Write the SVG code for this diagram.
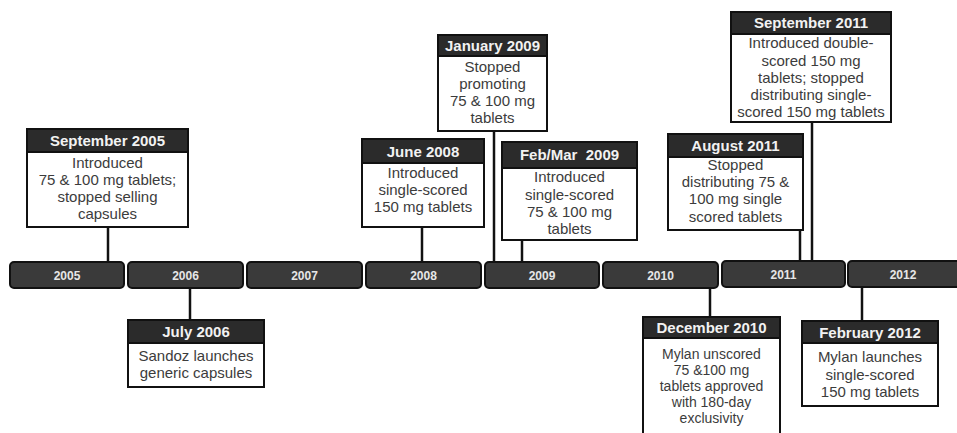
<svg xmlns="http://www.w3.org/2000/svg" width="957" height="433" viewBox="0 0 957 433">
<style>
.bar{fill:#3a3a3a;stroke:#111;stroke-width:2}
.yr{font-family:"Liberation Sans",Arial,sans-serif;font-size:12px;font-weight:bold;fill:#e6e6e6;text-anchor:middle}
.box{fill:#fff;stroke:#111;stroke-width:2}
.hd{fill:#2b2b2b;stroke:#111;stroke-width:2}
.ht{font-family:"Liberation Sans",Arial,sans-serif;font-size:15px;font-weight:bold;fill:#f2f2f2;text-anchor:middle}
.bt{font-family:"Liberation Sans",Arial,sans-serif;font-size:15px;fill:#3c3c3c;text-anchor:middle}
.sm{font-size:14px}
.ln{stroke:#111;stroke-width:2.5;fill:none}
</style>
<rect width="957" height="433" fill="#fff"/>
<g id="connectors">
<line class="ln" x1="108" y1="227" x2="108" y2="262"/>
<line class="ln" x1="190" y1="288" x2="190" y2="320"/>
<line class="ln" x1="422" y1="227" x2="422" y2="262"/>
<line class="ln" x1="494" y1="131" x2="494" y2="262"/>
<line class="ln" x1="522" y1="240" x2="522" y2="262"/>
<line class="ln" x1="710" y1="288" x2="710" y2="317"/>
<line class="ln" x1="800" y1="230" x2="800" y2="261"/>
<line class="ln" x1="812" y1="122" x2="812" y2="261"/>
<line class="ln" x1="862" y1="286" x2="862" y2="321"/>
</g>
<g id="timeline">
<g id="y2005"><rect class="bar" x="10" y="262" width="114" height="26" rx="4"/><text class="yr" x="67" y="280">2005</text></g>
<g id="y2006"><rect class="bar" x="128" y="262" width="115" height="26" rx="4"/><text class="yr" x="185.5" y="280">2006</text></g>
<g id="y2007"><rect class="bar" x="247" y="262" width="115" height="26" rx="4"/><text class="yr" x="304.5" y="280">2007</text></g>
<g id="y2008"><rect class="bar" x="366" y="262" width="115" height="26" rx="4"/><text class="yr" x="423.5" y="280">2008</text></g>
<g id="y2009"><rect class="bar" x="485" y="262" width="114" height="26" rx="4"/><text class="yr" x="542" y="280">2009</text></g>
<g id="y2010"><rect class="bar" x="603" y="262" width="115" height="26" rx="4"/><text class="yr" x="660.5" y="280">2010</text></g>
<g id="y2011"><rect class="bar" x="722" y="261" width="123" height="26" rx="4"/><text class="yr" x="783.5" y="279">2011</text></g>
<g id="y2012"><rect class="bar" x="848" y="261" width="120" height="26" rx="4"/><text class="yr" x="903" y="279">2012</text></g>
</g>
<g id="sep2005">
<rect class="box" x="27" y="129" width="161" height="98"/><rect class="hd" x="27" y="129" width="161" height="23"/>
<text class="ht" x="107.5" y="146">September 2005</text>
<text class="bt" x="107.5" y="168">Introduced</text>
<text class="bt" x="107.5" y="185">75 &amp; 100 mg tablets;</text>
<text class="bt" x="107.5" y="202">stopped selling</text>
<text class="bt" x="107.5" y="219">capsules</text>
</g>
<g id="jul2006">
<rect class="box" x="128" y="320" width="136" height="67"/><rect class="hd" x="128" y="320" width="136" height="23"/>
<text class="ht" x="196" y="337">July 2006</text>
<text class="bt" x="196" y="361">Sandoz launches</text>
<text class="bt" x="196" y="378">generic capsules</text>
</g>
<g id="jun2008">
<rect class="box" x="362" y="139" width="122" height="88"/><rect class="hd" x="362" y="139" width="122" height="24"/>
<text class="ht" x="423" y="157">June 2008</text>
<text class="bt" x="423" y="178">Introduced</text>
<text class="bt" x="423" y="195">single-scored</text>
<text class="bt" x="423" y="212">150 mg tablets</text>
</g>
<g id="jan2009">
<rect class="box" x="438" y="35" width="109" height="96"/><rect class="hd" x="438" y="35" width="109" height="21"/>
<text class="ht" x="492.5" y="51">January 2009</text>
<text class="bt" x="492.5" y="72">Stopped</text>
<text class="bt" x="492.5" y="89">promoting</text>
<text class="bt" x="492.5" y="106">75 &amp; 100 mg</text>
<text class="bt" x="492.5" y="123">tablets</text>
</g>
<g id="febmar2009">
<rect class="box" x="502" y="142" width="135" height="98"/><rect class="hd" x="502" y="142" width="135" height="26"/>
<text class="ht" x="569.5" y="160">Feb/Mar&#160; 2009</text>
<text class="bt" x="569.5" y="182">Introduced</text>
<text class="bt" x="569.5" y="200">single-scored</text>
<text class="bt" x="569.5" y="217">75 &amp; 100 mg</text>
<text class="bt" x="569.5" y="234">tablets</text>
</g>
<g id="dec2010">
<rect class="box" x="643" y="317" width="137" height="130"/><rect class="hd" x="643" y="317" width="137" height="21"/>
<text class="ht" x="711.5" y="333">December 2010</text>
<text class="bt sm" x="711.5" y="359">Mylan unscored</text>
<text class="bt sm" x="711.5" y="375">75 &amp;100 mg</text>
<text class="bt sm" x="711.5" y="391">tablets approved</text>
<text class="bt sm" x="711.5" y="407">with 180-day</text>
<text class="bt sm" x="711.5" y="423">exclusivity</text>
</g>
<g id="aug2011">
<rect class="box" x="668" y="134" width="135" height="96"/><rect class="hd" x="668" y="134" width="135" height="23"/>
<text class="ht" x="735.5" y="151">August 2011</text>
<text class="bt" x="735.5" y="170">Stopped</text>
<text class="bt" x="735.5" y="187">distributing 75 &amp;</text>
<text class="bt" x="735.5" y="204">100 mg single</text>
<text class="bt" x="735.5" y="222">scored tablets</text>
</g>
<g id="sep2011">
<rect class="box" x="731" y="12" width="160" height="110"/><rect class="hd" x="731" y="12" width="160" height="22"/>
<text class="ht" x="811" y="28">September 2011</text>
<text class="bt" x="811" y="48">Introduced double-</text>
<text class="bt" x="811" y="66">scored 150 mg</text>
<text class="bt" x="811" y="83">tablets; stopped</text>
<text class="bt" x="811" y="100">distributing single-</text>
<text class="bt" x="811" y="117">scored 150 mg tablets</text>
</g>
<g id="feb2012">
<rect class="box" x="802" y="321" width="136" height="85"/><rect class="hd" x="802" y="321" width="136" height="22"/>
<text class="ht" x="870" y="338">February 2012</text>
<text class="bt" x="870" y="362">Mylan launches</text>
<text class="bt" x="870" y="380">single-scored</text>
<text class="bt" x="870" y="397">150 mg tablets</text>
</g>
</svg>
